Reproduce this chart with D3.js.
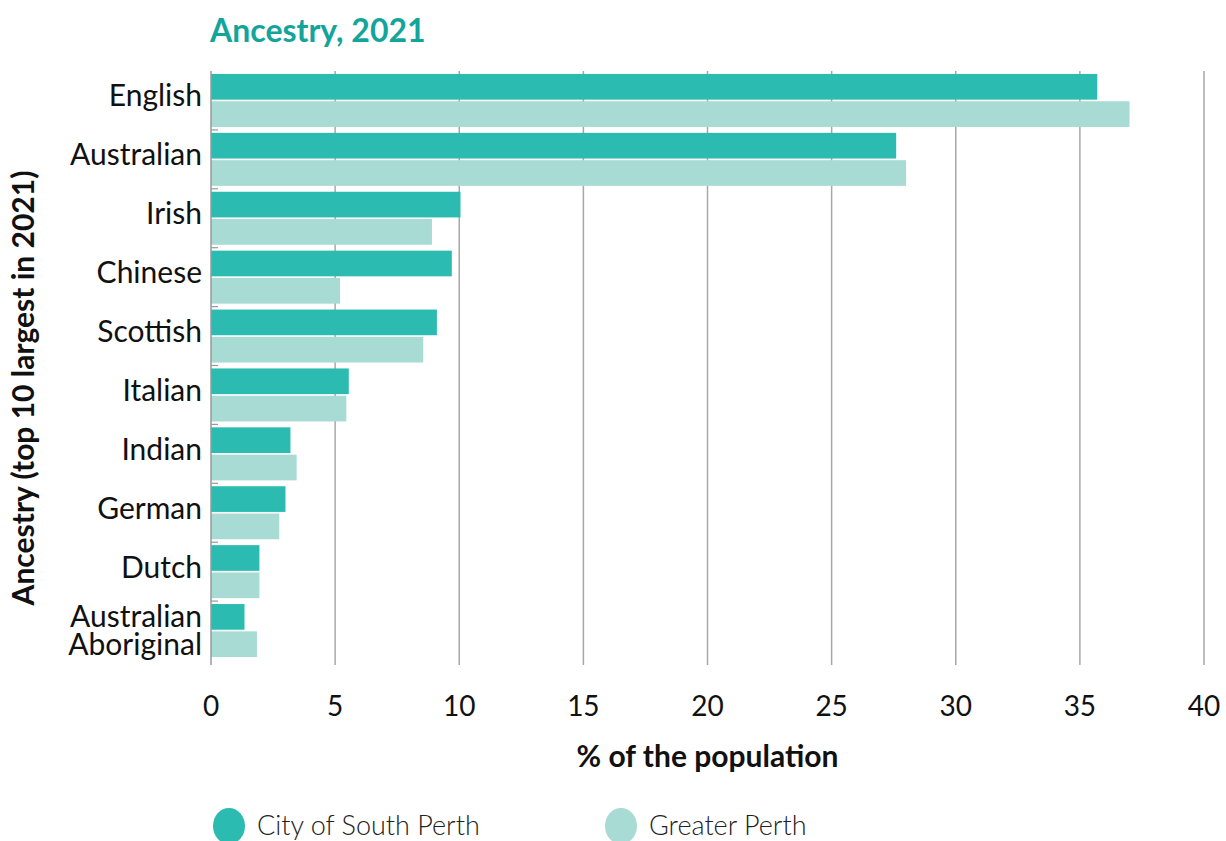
<!DOCTYPE html>
<html>
<head>
<meta charset="utf-8">
<script src="https://cdn.jsdelivr.net/npm/d3@7"></script>
<style>
  body { margin: 0; background: #fff; font-family: "Lato", "Noto Sans", sans-serif; }
</style>
</head>
<body>
<div id="chart"></div>
<script>
// data
var categories = ["English", "Australian", "Irish", "Chinese", "Scottish", "Italian", "Indian", "German", "Dutch", "Australian Aboriginal"]
var southPerth = [35.7, 27.6, 10.05, 9.7, 9.1, 5.55, 3.2, 3.0, 1.95, 1.35]
var greaterPerth = [37.0, 28.0, 8.9, 5.2, 8.55, 5.45, 3.45, 2.75, 1.95, 1.85]
var seriesNames = ["City of South Perth", "Greater Perth"]
var xTicks = [0, 5, 10, 15, 20, 25, 30, 35, 40]

var width = 1226, height = 841
var margin = {top: 71, right: 22, bottom: 181, left: 211}
var colors = ["#2bbbb0", "#a8dbd3"]

var svg = d3.select("#chart")
  .append("svg")
  .attr("width", width)
  .attr("height", height)

var xScale = d3.scaleLinear()
  .domain([0, 40])
  .range([margin.left, width - margin.right])

var yScale = d3.scaleBand()
  .domain(categories)
  .range([margin.top, height - margin.bottom])
  .paddingInner(0.1)
  .paddingOuter(0.05)

var sub = d3.scaleBand()
  .domain([0, 1])
  .range([0, yScale.bandwidth()])
  .paddingInner(0.06)

// grid
svg.append("g")
  .attr("class", "grid")
  .selectAll("line")
  .data(xTicks.slice(1))
  .enter()
  .append("line")
  .attr("x1", d => xScale(d))
  .attr("x2", d => xScale(d))
  .attr("y1", margin.top)
  .attr("y2", height - margin.bottom + 5)
  .attr("stroke", "#a8a8a8")
  .attr("stroke-width", 1.5)

// bars
var rows = categories.map((c, i) => ({cat: c, vals: [southPerth[i], greaterPerth[i]]}))

var groups = svg.selectAll(".row")
  .data(rows)
  .enter()
  .append("g")
  .attr("class", "row")
  .attr("transform", d => `translate(0,${yScale(d.cat)})`)

groups.selectAll("rect")
  .data(d => d.vals.map((v, j) => ({v: v, j: j})))
  .enter()
  .append("rect")
  .attr("x", xScale(0))
  .attr("y", d => sub(d.j))
  .attr("width", d => xScale(d.v) - xScale(0))
  .attr("height", sub.bandwidth())
  .style("fill", d => colors[d.j])

// left axis line + small separators
svg.append("line")
  .attr("x1", xScale(0)).attr("x2", xScale(0))
  .attr("y1", margin.top).attr("y2", height - margin.bottom + 5)
  .attr("stroke", "#999").attr("stroke-width", 1.5)

svg.append("g")
  .selectAll("line")
  .data(categories.slice(1))
  .enter()
  .append("line")
  .attr("x1", xScale(0))
  .attr("x2", xScale(0) + 7)
  .attr("y1", d => yScale(d) - yScale.step() * yScale.paddingInner() / 2)
  .attr("y2", d => yScale(d) - yScale.step() * yScale.paddingInner() / 2)
  .attr("stroke", "#999")
  .attr("stroke-width", 1.2)

// category labels
svg.append("g")
  .selectAll("text")
  .data(categories)
  .enter()
  .append("text")
  .attr("text-anchor", "end")
  .attr("x", xScale(0) - 9)
  .attr("font-size", "30px")
  .attr("fill", "#111")
  .each(function(d) {
    var t = d3.select(this)
    var mid = yScale(d) + yScale.bandwidth() / 2
    if (d === "Australian Aboriginal") {
      t.append("tspan").attr("x", xScale(0) - 9).attr("y", mid - 4).text("Australian")
      t.append("tspan").attr("x", xScale(0) - 9).attr("y", mid + 24).text("Aboriginal")
    } else {
      t.attr("y", mid + 6).text(d)
    }
  })

// x tick labels
svg.append("g")
  .selectAll("text")
  .data(xTicks)
  .enter()
  .append("text")
  .attr("x", d => xScale(d))
  .attr("y", 716)
  .attr("text-anchor", "middle")
  .attr("font-size", "28px")
  .attr("fill", "#111")
  .text(d => d)

// axis titles
svg.append("text")
  .attr("x", (xScale(0) + xScale(40)) / 2)
  .attr("y", 767)
  .attr("text-anchor", "middle")
  .attr("font-size", "30px")
  .attr("font-weight", "bold")
  .attr("fill", "#111")
  .text("% of the population")

svg.append("text")
  .attr("transform", `translate(34,388) rotate(-90)`)
  .attr("text-anchor", "middle")
  .attr("font-size", "30px")
  .attr("font-weight", "bold")
  .attr("fill", "#111")
  .text("Ancestry (top 10 largest in 2021)")

// title
svg.append("text")
  .attr("x", 210)
  .attr("y", 42)
  .attr("font-size", "32px")
  .attr("font-weight", "bold")
  .attr("fill", "#13a59b")
  .text("Ancestry, 2021")

// legend
var legend = svg.append("g")
  .selectAll("g")
  .data(seriesNames)
  .enter()
  .append("g")
  .attr("transform", (d, i) => `translate(${i === 0 ? 229 : 621},826)`)

legend.append("ellipse")
  .attr("rx", 16)
  .attr("ry", 18)
  .style("fill", (d, i) => colors[i])

legend.append("text")
  .attr("x", 28)
  .attr("y", 9)
  .attr("font-size", "27px")
  .attr("font-weight", 300)
  .attr("fill", "#222")
  .text(d => d)
</script>
</body>
</html>
